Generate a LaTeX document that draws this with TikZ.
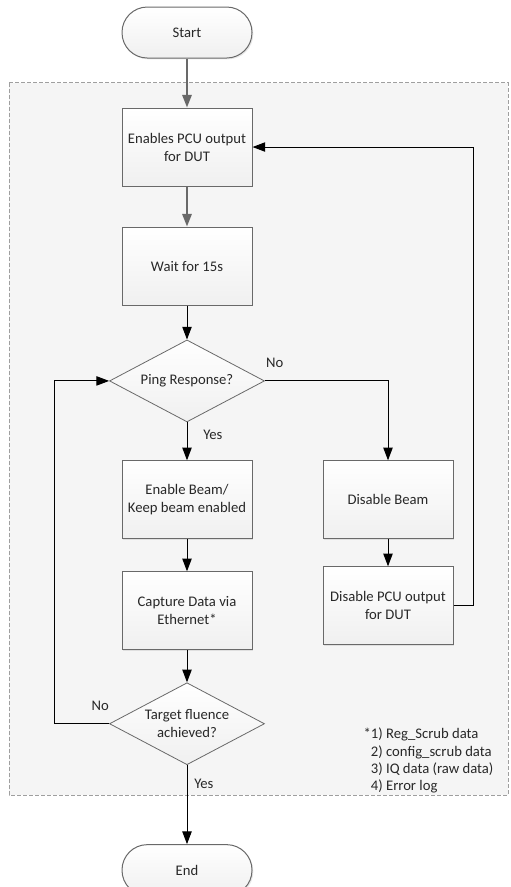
\documentclass[tikz,border=0pt]{standalone}
\usepackage{fontspec}
\setmainfont{Carlito}
\usetikzlibrary{shapes.geometric,arrows.meta,positioning,shadows}
\definecolor{linecol}{RGB}{105,105,105}
\definecolor{bgcol}{RGB}{245,245,245}
\definecolor{txtcol}{RGB}{40,40,40}

\begin{document}
\begin{tikzpicture}[
  font=\fontsize{11}{13.5}\selectfont, text=txtcol,
  box/.style={rectangle, minimum width=97.5pt, minimum height=58.5pt,
              align=center, draw=linecol, line width=0.75pt,
              top color=white, bottom color=gray!12,
              drop shadow={shadow xshift=1pt, shadow yshift=-1pt, opacity=0.18}},
  term/.style={box, minimum height=38.25pt, rounded corners=19pt},
  decision/.style={diamond, minimum width=116.25pt, minimum height=61.5pt,
                   inner sep=0pt, draw=linecol, line width=0.6pt,
                   top color=white, bottom color=gray!12},
  lbl/.style={inner sep=0pt},
  note/.style={inner sep=0pt, align=left, font=\fontsize{11}{13}\selectfont},
  arr/.style={-{Triangle[length=9.5pt,width=7pt]}, line width=0.75pt, draw=black},
  garr/.style={arr, line width=1.5pt, draw=linecol},
  >=Stealth
]
\useasboundingbox (0,0) rectangle (382.5pt,-665.25pt);

%% Loop region
\draw[draw=gray!75, fill=bgcol, line width=0.75pt, dash pattern=on 3pt off 1.5pt]
  (6.75pt,-62.25pt) rectangle (381pt,-596.25pt);

%% Main column
\node[term] (start) at (140.25pt,-24.4pt) {Start};
\node[box, below=36.75pt of start] (pcuon) {Enables PCU output\\for DUT};
\node[box, below=30pt of pcuon] (wait) {Wait for 15s};
\node[decision, below=25.5pt of wait, label={center:Ping Response?}] (ping) {};
\node[box, below=28.5pt of ping] (beamon) {Enable Beam/\\Keep beam enabled};
\node[box, below=24pt of beamon] (capture) {Capture Data via\\Ethernet*};
\node[decision, below=24pt of capture,
      label={[align=center]center:Target fluence\\achieved?}] (target) {};
\node[term, below=59.25pt of target] (end) {End};

%% Right column
\node[box, right=52.5pt of beamon] (beamoff) {Disable Beam};
\node[box, below=20.25pt of beamoff] (pcuoff) {Disable PCU output\\for DUT};

%% Footnote
\node[note, anchor=west] (note) at (272.5pt,-570.5pt)
  {*1) Reg\_Scrub data\\
   \phantom{*}2) config\_scrub data\\
   \phantom{*}3) IQ data (raw data)\\
   \phantom{*}4) Error log};

%% Arrows
\draw[garr] (start) -- (pcuon);
\draw[garr] (pcuon) -- (wait);
\draw[arr] (wait) -- (ping);
\draw[arr] (ping) -- (beamon);
\draw[arr] (beamon) -- (capture);
\draw[arr] (capture) -- (target);
\draw[arr] (target) -- (end);
\draw[arr] (ping.east) -| (beamoff.north);
\draw[arr] (beamoff) -- (pcuoff);
\draw[arr] (pcuoff.east) -- ++(15pt,0) |- (pcuon.east);
\draw[arr] (target.west) -- ++(-41.25pt,0) |- (ping.west);

%% Branch labels
\node[lbl, above right=9.75pt and 0.75pt of ping.east] (pingno) {No};
\node[lbl, below right=5.25pt and 12pt of ping.south] (pingyes) {Yes};
\node[lbl, above left=9.75pt and 0pt of target.west] (targetno) {No};
\node[lbl, below right=10.5pt and 5.25pt of target.south] (targetyes) {Yes};

\end{tikzpicture}
\end{document}
